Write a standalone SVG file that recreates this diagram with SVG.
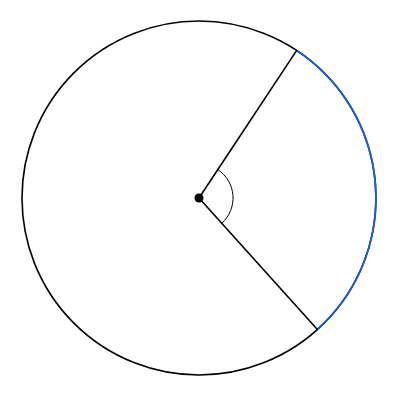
<svg xmlns="http://www.w3.org/2000/svg" width="400" height="400" viewBox="0 0 400 400">
<style>
.k{fill:none;stroke:#000;stroke-width:1.6}
.b{fill:none;stroke:#1a5fd4;stroke-width:1.8}
.t{fill:none;stroke:#000;stroke-width:1}
</style>
<rect width="400" height="400" fill="#fff"/>
<g id="circle"><circle class="k" cx="199" cy="198" r="177"/></g>
<g id="arc"><path class="b" d="M296.7,50.4 A177,177 0 0 1 317.4,329.5"/></g>
<g id="connectors">
<line class="k" x1="199" y1="198" x2="296.7" y2="50.4"/>
<line class="k" x1="199" y1="198" x2="317.4" y2="329.5"/>
<path class="t" d="M217.8,169.6 A34,34 0 0 1 221.75,223.27"/>
</g>
<g id="center"><circle cx="199" cy="198" r="4.5" fill="#000"/></g>
</svg>
